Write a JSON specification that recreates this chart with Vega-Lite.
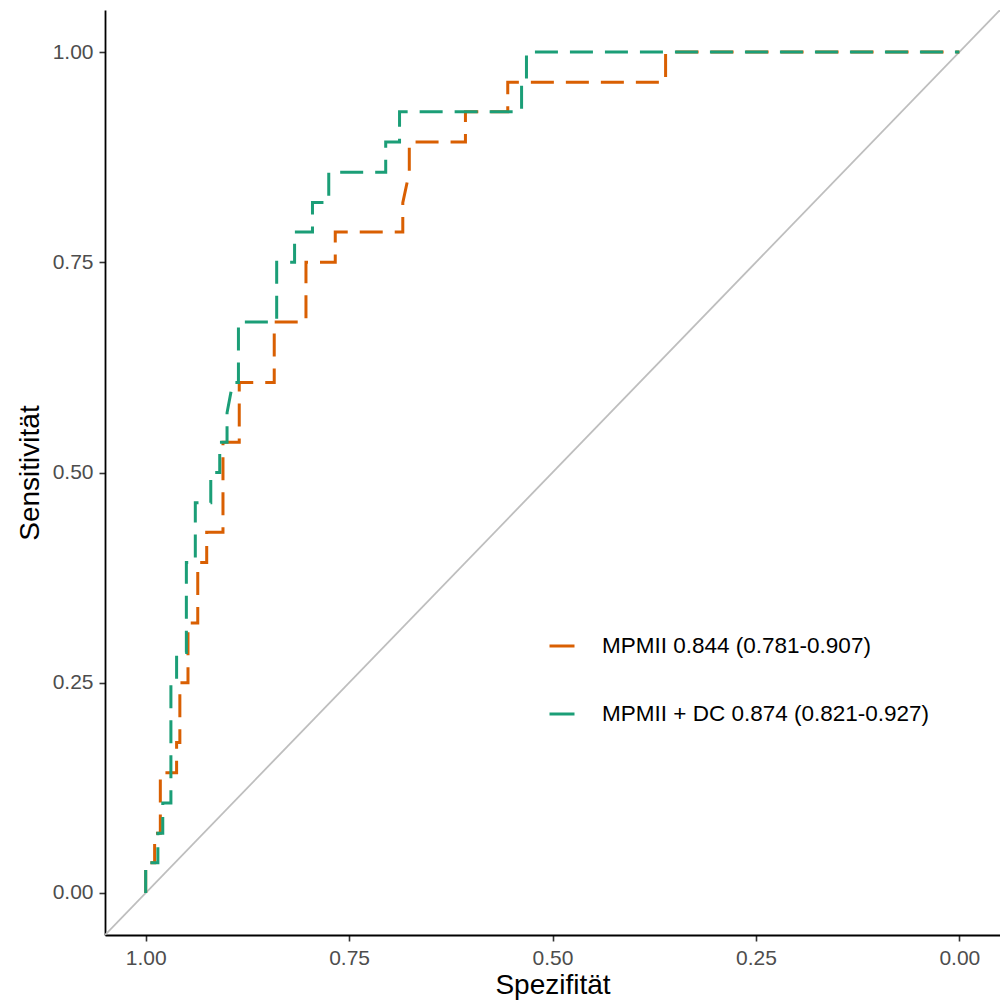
{
  "$schema": "https://vega.github.io/schema/vega-lite/v6.json",
  "width": 895,
  "height": 925,
  "autosize": {"type": "none"},
  "padding": {"left": 105, "top": 10, "right": 0, "bottom": 73},
  "background": "white",
  "config": {
    "view": {"stroke": null},
    "font": "Liberation Sans",
    "axis": {
      "grid": false,
      "domainColor": "black",
      "domainWidth": 1.8,
      "tickColor": "#333333",
      "tickWidth": 1.6,
      "tickSize": 6,
      "labelColor": "#4D4D4D",
      "labelFontSize": 21,
      "labelFont": "Liberation Sans",
      "titleFont": "Liberation Sans",
      "titleFontSize": 28,
      "titleFontWeight": "normal",
      "titleColor": "black"
    }
  },
  "layer": [
    {
      "data": {"values": [
        {"spec": 1.05, "sens": -0.05},
        {"spec": -0.05, "sens": 1.05}
      ]},
      "mark": {"type": "line", "color": "#BEBEBE", "strokeWidth": 1.8, "clip": true},
      "encoding": {
        "x": {"field": "spec", "type": "quantitative"},
        "y": {"field": "sens", "type": "quantitative"}
      }
    },
    {
      "data": {"values": [
        {"model": "MPMII 0.844 (0.781-0.907)", "i": 1, "spec": 1.000, "sens": 0},
        {"model": "MPMII 0.844 (0.781-0.907)", "i": 2, "spec": 1.000, "sens": 0.036},
        {"model": "MPMII 0.844 (0.781-0.907)", "i": 3, "spec": 0.989, "sens": 0.036},
        {"model": "MPMII 0.844 (0.781-0.907)", "i": 4, "spec": 0.989, "sens": 0.071},
        {"model": "MPMII 0.844 (0.781-0.907)", "i": 5, "spec": 0.982, "sens": 0.071},
        {"model": "MPMII 0.844 (0.781-0.907)", "i": 6, "spec": 0.982, "sens": 0.143},
        {"model": "MPMII 0.844 (0.781-0.907)", "i": 7, "spec": 0.962, "sens": 0.143},
        {"model": "MPMII 0.844 (0.781-0.907)", "i": 8, "spec": 0.962, "sens": 0.179},
        {"model": "MPMII 0.844 (0.781-0.907)", "i": 9, "spec": 0.958, "sens": 0.179},
        {"model": "MPMII 0.844 (0.781-0.907)", "i": 10, "spec": 0.958, "sens": 0.250},
        {"model": "MPMII 0.844 (0.781-0.907)", "i": 11, "spec": 0.948, "sens": 0.250},
        {"model": "MPMII 0.844 (0.781-0.907)", "i": 12, "spec": 0.948, "sens": 0.321},
        {"model": "MPMII 0.844 (0.781-0.907)", "i": 13, "spec": 0.936, "sens": 0.321},
        {"model": "MPMII 0.844 (0.781-0.907)", "i": 14, "spec": 0.936, "sens": 0.393},
        {"model": "MPMII 0.844 (0.781-0.907)", "i": 15, "spec": 0.925, "sens": 0.393},
        {"model": "MPMII 0.844 (0.781-0.907)", "i": 16, "spec": 0.925, "sens": 0.429},
        {"model": "MPMII 0.844 (0.781-0.907)", "i": 17, "spec": 0.905, "sens": 0.429},
        {"model": "MPMII 0.844 (0.781-0.907)", "i": 18, "spec": 0.905, "sens": 0.536},
        {"model": "MPMII 0.844 (0.781-0.907)", "i": 19, "spec": 0.885, "sens": 0.536},
        {"model": "MPMII 0.844 (0.781-0.907)", "i": 20, "spec": 0.885, "sens": 0.607},
        {"model": "MPMII 0.844 (0.781-0.907)", "i": 21, "spec": 0.842, "sens": 0.607},
        {"model": "MPMII 0.844 (0.781-0.907)", "i": 22, "spec": 0.842, "sens": 0.679},
        {"model": "MPMII 0.844 (0.781-0.907)", "i": 23, "spec": 0.803, "sens": 0.679},
        {"model": "MPMII 0.844 (0.781-0.907)", "i": 24, "spec": 0.803, "sens": 0.750},
        {"model": "MPMII 0.844 (0.781-0.907)", "i": 25, "spec": 0.767, "sens": 0.750},
        {"model": "MPMII 0.844 (0.781-0.907)", "i": 26, "spec": 0.767, "sens": 0.786},
        {"model": "MPMII 0.844 (0.781-0.907)", "i": 27, "spec": 0.684, "sens": 0.786},
        {"model": "MPMII 0.844 (0.781-0.907)", "i": 28, "spec": 0.684, "sens": 0.821},
        {"model": "MPMII 0.844 (0.781-0.907)", "i": 29, "spec": 0.676, "sens": 0.857},
        {"model": "MPMII 0.844 (0.781-0.907)", "i": 30, "spec": 0.676, "sens": 0.893},
        {"model": "MPMII 0.844 (0.781-0.907)", "i": 31, "spec": 0.607, "sens": 0.893},
        {"model": "MPMII 0.844 (0.781-0.907)", "i": 32, "spec": 0.607, "sens": 0.929},
        {"model": "MPMII 0.844 (0.781-0.907)", "i": 33, "spec": 0.555, "sens": 0.929},
        {"model": "MPMII 0.844 (0.781-0.907)", "i": 34, "spec": 0.555, "sens": 0.964},
        {"model": "MPMII 0.844 (0.781-0.907)", "i": 35, "spec": 0.361, "sens": 0.964},
        {"model": "MPMII 0.844 (0.781-0.907)", "i": 36, "spec": 0.361, "sens": 1.000},
        {"model": "MPMII 0.844 (0.781-0.907)", "i": 37, "spec": 0.000, "sens": 1.000},
        {"model": "MPMII + DC 0.874 (0.821-0.927)", "i": 1, "spec": 1.000, "sens": 0},
        {"model": "MPMII + DC 0.874 (0.821-0.927)", "i": 2, "spec": 1.000, "sens": 0.036},
        {"model": "MPMII + DC 0.874 (0.821-0.927)", "i": 3, "spec": 0.985, "sens": 0.036},
        {"model": "MPMII + DC 0.874 (0.821-0.927)", "i": 4, "spec": 0.985, "sens": 0.071},
        {"model": "MPMII + DC 0.874 (0.821-0.927)", "i": 5, "spec": 0.979, "sens": 0.071},
        {"model": "MPMII + DC 0.874 (0.821-0.927)", "i": 6, "spec": 0.979, "sens": 0.107},
        {"model": "MPMII + DC 0.874 (0.821-0.927)", "i": 7, "spec": 0.969, "sens": 0.107},
        {"model": "MPMII + DC 0.874 (0.821-0.927)", "i": 8, "spec": 0.969, "sens": 0.250},
        {"model": "MPMII + DC 0.874 (0.821-0.927)", "i": 9, "spec": 0.962, "sens": 0.250},
        {"model": "MPMII + DC 0.874 (0.821-0.927)", "i": 10, "spec": 0.962, "sens": 0.286},
        {"model": "MPMII + DC 0.874 (0.821-0.927)", "i": 11, "spec": 0.950, "sens": 0.286},
        {"model": "MPMII + DC 0.874 (0.821-0.927)", "i": 12, "spec": 0.950, "sens": 0.393},
        {"model": "MPMII + DC 0.874 (0.821-0.927)", "i": 13, "spec": 0.939, "sens": 0.393},
        {"model": "MPMII + DC 0.874 (0.821-0.927)", "i": 14, "spec": 0.939, "sens": 0.464},
        {"model": "MPMII + DC 0.874 (0.821-0.927)", "i": 15, "spec": 0.920, "sens": 0.464},
        {"model": "MPMII + DC 0.874 (0.821-0.927)", "i": 16, "spec": 0.920, "sens": 0.500},
        {"model": "MPMII + DC 0.874 (0.821-0.927)", "i": 17, "spec": 0.909, "sens": 0.500},
        {"model": "MPMII + DC 0.874 (0.821-0.927)", "i": 18, "spec": 0.909, "sens": 0.536},
        {"model": "MPMII + DC 0.874 (0.821-0.927)", "i": 19, "spec": 0.900, "sens": 0.536},
        {"model": "MPMII + DC 0.874 (0.821-0.927)", "i": 20, "spec": 0.900, "sens": 0.571},
        {"model": "MPMII + DC 0.874 (0.821-0.927)", "i": 21, "spec": 0.893, "sens": 0.607},
        {"model": "MPMII + DC 0.874 (0.821-0.927)", "i": 22, "spec": 0.886, "sens": 0.607},
        {"model": "MPMII + DC 0.874 (0.821-0.927)", "i": 23, "spec": 0.886, "sens": 0.679},
        {"model": "MPMII + DC 0.874 (0.821-0.927)", "i": 24, "spec": 0.839, "sens": 0.679},
        {"model": "MPMII + DC 0.874 (0.821-0.927)", "i": 25, "spec": 0.839, "sens": 0.750},
        {"model": "MPMII + DC 0.874 (0.821-0.927)", "i": 26, "spec": 0.817, "sens": 0.750},
        {"model": "MPMII + DC 0.874 (0.821-0.927)", "i": 27, "spec": 0.817, "sens": 0.786},
        {"model": "MPMII + DC 0.874 (0.821-0.927)", "i": 28, "spec": 0.795, "sens": 0.786},
        {"model": "MPMII + DC 0.874 (0.821-0.927)", "i": 29, "spec": 0.795, "sens": 0.821},
        {"model": "MPMII + DC 0.874 (0.821-0.927)", "i": 30, "spec": 0.775, "sens": 0.821},
        {"model": "MPMII + DC 0.874 (0.821-0.927)", "i": 31, "spec": 0.775, "sens": 0.857},
        {"model": "MPMII + DC 0.874 (0.821-0.927)", "i": 32, "spec": 0.705, "sens": 0.857},
        {"model": "MPMII + DC 0.874 (0.821-0.927)", "i": 33, "spec": 0.705, "sens": 0.893},
        {"model": "MPMII + DC 0.874 (0.821-0.927)", "i": 34, "spec": 0.688, "sens": 0.893},
        {"model": "MPMII + DC 0.874 (0.821-0.927)", "i": 35, "spec": 0.688, "sens": 0.929},
        {"model": "MPMII + DC 0.874 (0.821-0.927)", "i": 36, "spec": 0.538, "sens": 0.929},
        {"model": "MPMII + DC 0.874 (0.821-0.927)", "i": 37, "spec": 0.538, "sens": 0.964},
        {"model": "MPMII + DC 0.874 (0.821-0.927)", "i": 38, "spec": 0.532, "sens": 0.964},
        {"model": "MPMII + DC 0.874 (0.821-0.927)", "i": 39, "spec": 0.532, "sens": 1.000},
        {"model": "MPMII + DC 0.874 (0.821-0.927)", "i": 40, "spec": 0.000, "sens": 1.000}
      ]},
      "mark": {"type": "line", "strokeWidth": 3, "strokeDash": [23, 12], "strokeCap": "butt", "clip": true},
      "encoding": {
        "x": {
          "field": "spec", "type": "quantitative",
          "scale": {"domain": [-0.05, 1.05], "reverse": true, "nice": false, "zero": false},
          "axis": {"title": "Spezifität", "values": [0, 0.25, 0.5, 0.75, 1], "format": ".2f", "labelPadding": 6, "titlePadding": 3}
        },
        "y": {
          "field": "sens", "type": "quantitative",
          "scale": {"domain": [-0.05, 1.05], "nice": false, "zero": false},
          "axis": {"title": "Sensitivität", "values": [0, 0.25, 0.5, 0.75, 1], "format": ".2f", "labelPadding": 6, "titlePadding": 8}
        },
        "color": {
          "field": "model", "type": "nominal",
          "scale": {"domain": ["MPMII 0.844 (0.781-0.907)", "MPMII + DC 0.874 (0.821-0.927)"], "range": ["#D95F02", "#1B9E77"]},
          "legend": {
            "title": null,
            "orient": "none",
            "legendX": 443,
            "legendY": 622,
            "symbolType": "stroke",
            "symbolSize": 625,
            "symbolStrokeWidth": 3,
            "symbolDash": [100, 0],
            "labelFontSize": 22.5,
            "labelColor": "black",
            "labelFont": "Liberation Sans",
            "labelLimit": 0,
            "labelOffset": 26,
            "rowPadding": 42,
            "padding": 0
          }
        },
        "order": {"field": "i", "type": "quantitative"}
      }
    }
  ]
}
